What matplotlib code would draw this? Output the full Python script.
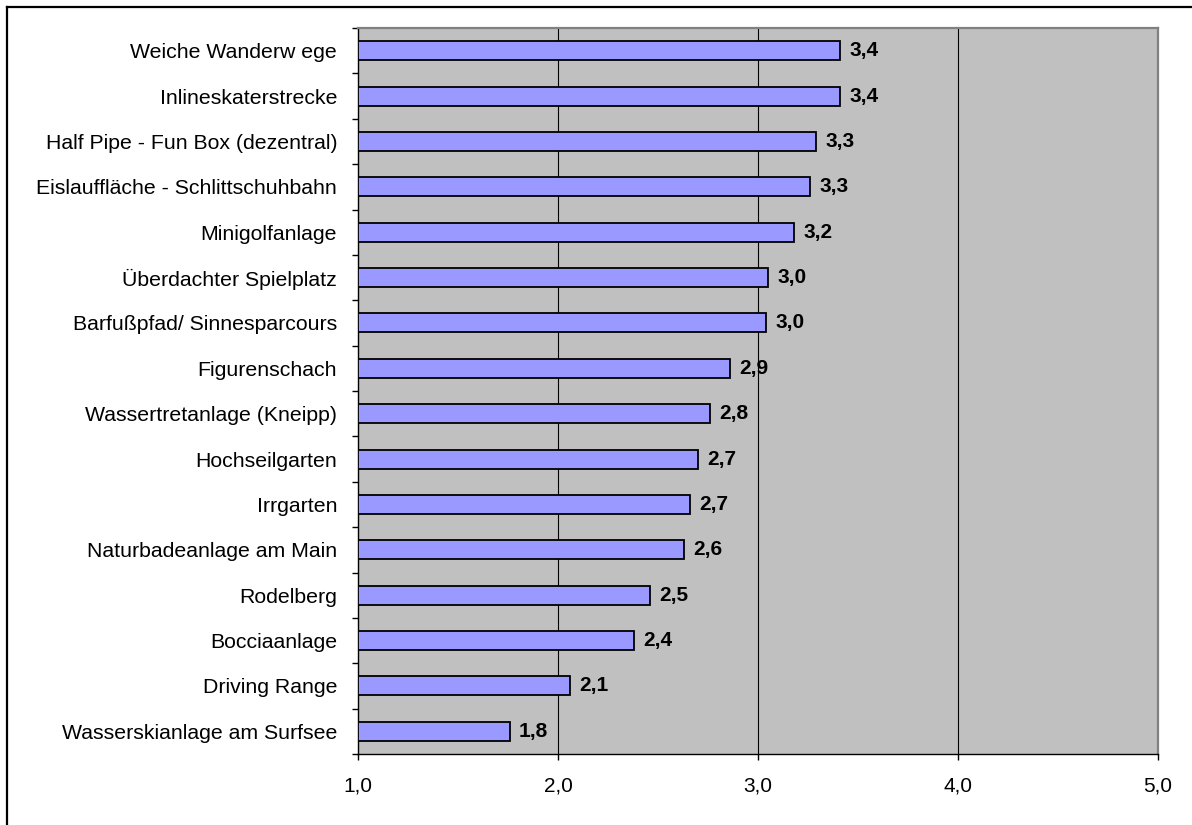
import matplotlib
matplotlib.use("Agg")
import matplotlib.pyplot as plt
from matplotlib.lines import Line2D
import numpy as np

categories = [
    "Weiche Wanderw ege",
    "Inlineskaterstrecke",
    "Half Pipe - Fun Box (dezentral)",
    "Eislauffläche - Schlittschuhbahn",
    "Minigolfanlage",
    "Überdachter Spielplatz",
    "Barfußpfad/ Sinnesparcours",
    "Figurenschach",
    "Wassertretanlage (Kneipp)",
    "Hochseilgarten",
    "Irrgarten",
    "Naturbadeanlage am Main",
    "Rodelberg",
    "Bocciaanlage",
    "Driving Range",
    "Wasserskianlage am Surfsee",
]
values = [3.41, 3.41, 3.29, 3.26, 3.18, 3.05, 3.04, 2.86, 2.76, 2.70,
          2.66, 2.63, 2.46, 2.38, 2.06, 1.76]
xticks = [1.0, 2.0, 3.0, 4.0, 5.0]
xticklabels = ["1,0", "2,0", "3,0", "4,0", "5,0"]

plt.rcParams['font.family'] = ['Liberation Sans', 'DejaVu Sans']

W, H = 1192, 825
fig = plt.figure(figsize=(W / 100, H / 100), dpi=100)
fig.patch.set_facecolor('white')

# outer chart border (left and top visible)
fig.add_artist(Line2D([7.5 / W, 7.5 / W], [0, 1 - 7 / H], color='black', lw=1.6,
                      transform=fig.transFigure))
fig.add_artist(Line2D([7.5 / W, 1], [1 - 7 / H, 1 - 7 / H], color='black', lw=1.6,
                      transform=fig.transFigure))

left, right, top, bottom = 358, 1158, 28, 754
ax = fig.add_axes([left / W, 1 - bottom / H, (right - left) / W, (bottom - top) / H])
ax.set_facecolor('#C0C0C0')

FS = 15
n = len(categories)
y = np.arange(n)
ax.barh(y, np.array(values) - 1.0, left=1.0, height=0.42, color='#9999FF',
        edgecolor='black', linewidth=1.3, zorder=3)

for yi, v in zip(y, values):
    ax.annotate(f"{v:.1f}".replace('.', ','), xy=(v, yi), xytext=(6.5, 0),
                textcoords='offset points', va='center', ha='left',
                fontsize=FS, fontweight='bold', color='black')

ax.set_xlim(1.0, 5.0)
ax.set_ylim(n - 0.5, -0.5)
ax.set_xticks(xticks)
ax.set_xticklabels(xticklabels, fontsize=FS)
ax.set_yticks(y)
ax.set_yticklabels(categories, fontsize=15.3)
ax.set_yticks(np.arange(n + 1) - 0.5, minor=True)
ax.tick_params(axis='y', which='major', length=0, pad=15)
ax.tick_params(axis='y', which='minor', length=4, width=1, direction='out')
ax.tick_params(axis='x', which='major', length=4, width=1, direction='out', pad=12)

for xv in xticks[1:-1]:
    ax.axvline(xv, color='black', lw=0.8, zorder=1)

for s in ['left', 'bottom']:
    ax.spines[s].set_color('black')
    ax.spines[s].set_linewidth(1.0)
for s in ['top', 'right']:
    ax.spines[s].set_color('#808080')
    ax.spines[s].set_linewidth(1.6)

fig.savefig('out.png', dpi=100)
